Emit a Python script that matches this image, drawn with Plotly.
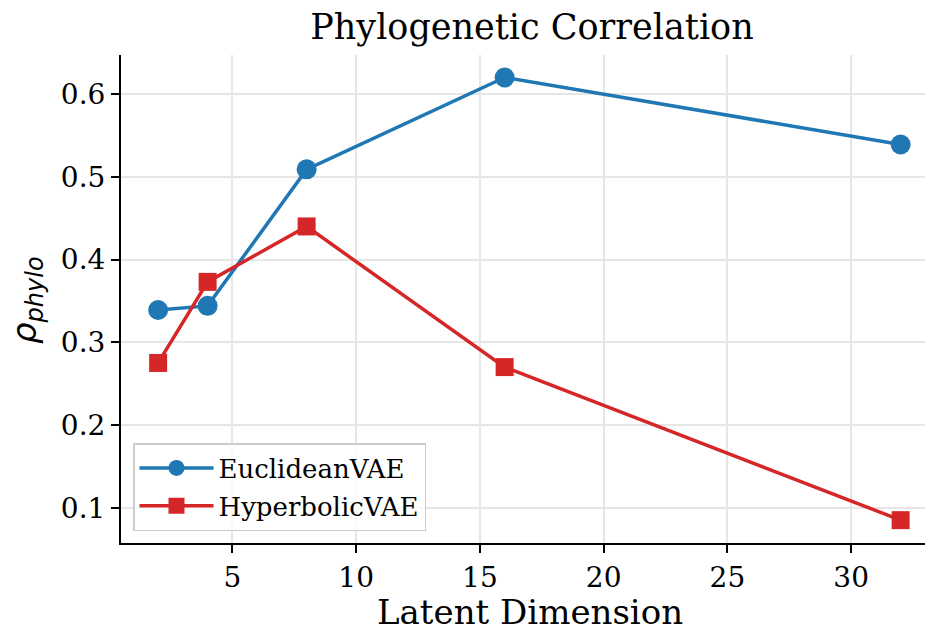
import plotly.graph_objects as go

latent_dims = [2, 4, 8, 16, 32]
euclidean_vals = [0.339, 0.344, 0.509, 0.620, 0.539]
hyperbolic_vals = [0.275, 0.373, 0.440, 0.270, 0.085]
x_ticks = [5, 10, 15, 20, 25, 30]
y_ticks = [0.1, 0.2, 0.3, 0.4, 0.5, 0.6]
y_tick_labels = ["0.1", "0.2", "0.3", "0.4", "0.5", "0.6"]

W, H = 925, 631
L, R, T, B = 121, 0, 55, 88
PW, PH = W - L - R, H - T - B

fig = go.Figure()
fig.add_trace(go.Scatter(
    x=latent_dims, y=euclidean_vals, mode="lines+markers", name="EuclideanVAE",
    legendgroup="e",
    line=dict(color="#1f77b4", width=3.5),
    marker=dict(symbol="circle", size=20, color="#1f77b4"),
))
fig.add_trace(go.Scatter(
    x=latent_dims, y=hyperbolic_vals, mode="lines+markers", name="HyperbolicVAE",
    legendgroup="h",
    line=dict(color="#d62728", width=3.5),
    marker=dict(symbol="square", size=18, color="#d62728"),
))

font_serif = "DejaVu Serif"
fig.update_layout(
    width=W, height=H,
    margin=dict(l=L, r=R, t=T, b=B),
    plot_bgcolor="white", paper_bgcolor="white",
    font=dict(family=font_serif, color="black"),
    title=dict(text="Phylogenetic Correlation", x=532 / W, xanchor="center",
               y=1 - 27 / H, yanchor="middle", font=dict(size=35, family=font_serif)),
    xaxis=dict(
        range=[0.5, 0.5 + PW / 24.75], tickvals=x_ticks,
        showgrid=True, gridcolor="#e6e6e6", gridwidth=1.5,
        showline=True, linecolor="black", linewidth=2,
        ticks="outside", ticklen=8, tickwidth=2, tickcolor="black",
        tickfont=dict(size=28, family=font_serif), zeroline=False,
    ),
    yaxis=dict(
        range=[0.0574, 0.6472], tickvals=y_ticks, ticktext=y_tick_labels,
        showgrid=True, gridcolor="#e6e6e6", gridwidth=1.5,
        showline=True, linecolor="black", linewidth=2,
        ticks="outside", ticklen=8, tickwidth=2, tickcolor="black",
        tickfont=dict(size=28, family=font_serif), zeroline=False,
    ),
    legend=dict(
        x=(133 - L) / PW, y=1 - (443 - T) / PH, xanchor="left", yanchor="top",
        bgcolor="rgba(255,255,255,0.8)", bordercolor="#cccccc", borderwidth=1.5,
        font=dict(size=26, family=font_serif), itemwidth=74, tracegroupgap=1,
    ),
    annotations=[
        dict(text="Latent Dimension", xref="paper", yref="paper",
             x=(529.5 - L) / PW, y=-(612 - (T + PH)) / PH, xanchor="center", yanchor="middle",
             height=36, showarrow=False, font=dict(size=34, family=font_serif)),
        dict(text="<i>ρ</i><sub><span style='font-size:24px'><i>phylo</i></span></sub>",
             xref="paper", yref="paper",
             x=-(L - 26) / PW, y=1 - (300 - T) / PH, xanchor="center", yanchor="middle",
             textangle=-90, showarrow=False, font=dict(size=34, family="DejaVu Sans")),
    ],
)

fig.write_html("out.html", config={"displayModeBar": False},
               post_script="document.body.style.margin='0';document.body.style.overflow='hidden';")
